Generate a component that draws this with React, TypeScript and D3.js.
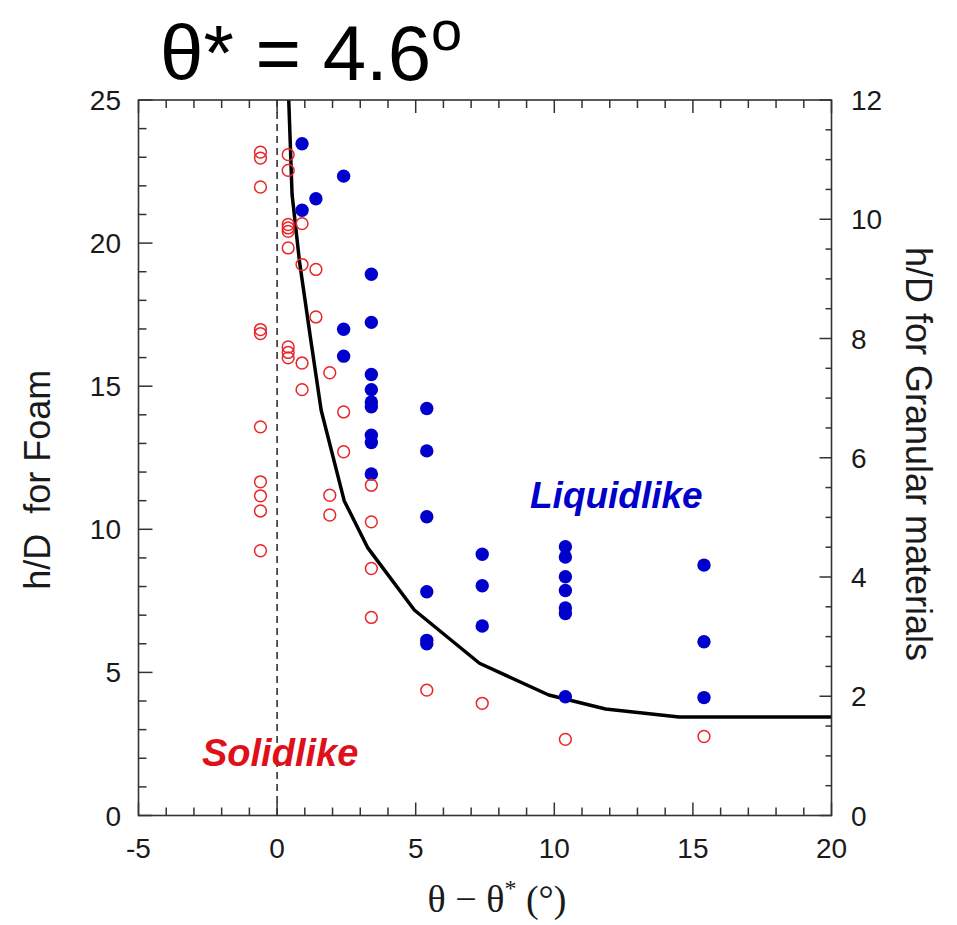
import React from "react";
import * as d3 from "d3";

// ---- data ----
const solidTheta = [
  -0.6, -0.6, -0.6, -0.6, -0.6, -0.6, -0.6, -0.6, -0.6, -0.6,
  0.4, 0.4, 0.4, 0.4, 0.4, 0.4, 0.4, 0.4, 0.4,
  0.9, 0.9, 0.9, 0.9,
  1.4, 1.4,
  1.9, 1.9, 1.9,
  2.4, 2.4,
  3.4, 3.4, 3.4, 3.4,
  5.4, 7.4, 10.4, 15.4,
];
const solidH = [
  23.18, 22.97, 21.96, 16.98, 16.84, 13.58, 11.66, 11.17, 10.64, 9.25,
  23.09, 22.54, 20.65, 20.53, 20.41, 19.83, 16.37, 16.18, 15.99,
  20.68, 19.25, 15.81, 14.88,
  19.08, 17.42,
  15.47, 11.19, 10.5,
  14.1, 12.71,
  11.54, 10.26, 8.63, 6.92,
  4.38, 3.92, 2.66, 2.76,
];

const liquidTheta = [
  0.9, 0.9,
  1.4,
  2.4, 2.4, 2.4,
  3.4, 3.4, 3.4, 3.4, 3.4, 3.4, 3.4, 3.4, 3.4,
  5.4, 5.4, 5.4, 5.4, 5.4, 5.4,
  7.4, 7.4, 7.4,
  10.4, 10.4, 10.4, 10.4, 10.4, 10.4, 10.4,
  15.4, 15.4, 15.4,
];
const liquidH = [
  23.47, 21.15,
  21.55,
  22.34, 16.99, 16.05,
  18.91, 17.23, 15.41, 14.88, 14.45, 14.28, 13.29, 13.03, 11.93,
  14.22, 12.74, 10.44, 7.82, 6.12, 6.0,
  9.13, 8.03, 6.62,
  9.39, 9.03, 8.34, 7.86, 7.25, 7.06, 4.15,
  8.75, 6.07, 4.12,
];

const boundaryTheta = [0.42, 0.54, 0.81, 1.19, 1.59, 2.42, 3.26, 4.95, 7.3, 9.8, 11.85, 14.5, 20];
const boundaryH = [25.0, 21.7, 19.34, 16.78, 14.16, 11.0, 9.37, 7.18, 5.32, 4.21, 3.72, 3.44, 3.44];

const xTicks = [-5, 0, 5, 10, 15, 20];
const yLeftTicks = [0, 5, 10, 15, 20, 25];
const yRightTicks = [0, 2, 4, 6, 8, 10, 12];

// ---- layout ----
const W = 957;
const H = 925;
const L = 138.5, R = 831.5, T = 100, B = 815.5;

const AXIS = "#333";
const TICKTXT = "#1a1a1a";
const BLUE = "#0000cc";
const RED = "#e8262a";

export default function App() {
  const x = d3.scaleLinear().domain([-5, 20]).range([L, R]);
  const yL = d3.scaleLinear().domain([0, 25]).range([B, T]);
  const yR = d3.scaleLinear().domain([0, 12]).range([B, T]);

  const line = d3
    .line<number>()
    .x((_, i) => x(boundaryTheta[i]))
    .y((_, i) => yL(boundaryH[i]));

  const xMinor = d3.range(-5, 20.001, 1);
  const yMinor = d3.range(0, 25.001, 1);
  const rMinor = d3.range(0, 12.001, 0.5);

  const tickLines: React.ReactElement[] = [];
  xMinor.forEach((v, i) => {
    const major = Math.abs(v % 5) < 1e-9;
    const len = major ? 13 : 8;
    tickLines.push(<line key={"bx" + i} x1={x(v)} x2={x(v)} y1={B} y2={B - len} />);
    tickLines.push(<line key={"tx" + i} x1={x(v)} x2={x(v)} y1={T} y2={T + len} />);
  });
  yMinor.forEach((v, i) => {
    const major = Math.abs(v % 5) < 1e-9;
    const len = major ? 14 : 8;
    tickLines.push(<line key={"ly" + i} x1={L} x2={L + len} y1={yL(v)} y2={yL(v)} />);
  });
  rMinor.forEach((v, i) => {
    const major = Math.abs(v % 2) < 1e-9;
    const len = major ? 12 : 6;
    tickLines.push(<line key={"ry" + i} x1={R} x2={R - len} y1={yR(v)} y2={yR(v)} />);
  });

  return (
    <svg
      width={W}
      height={H}
      style={{ position: "absolute", left: 0, top: 0, background: "#fff" }}
      fontFamily="'Liberation Sans', Arial, sans-serif"
    >
      <defs>
        <clipPath id="plotclip">
          <rect x={L} y={T} width={R - L} height={B - T} />
        </clipPath>
      </defs>

      {/* title */}
      <text x={160} y={80} fontSize={78} fill="#000">
        θ* = 4.6
        <tspan fontSize={56} dy={-30}>o</tspan>
      </text>

      {/* dashed zero line */}
      <line
        x1={x(0)}
        x2={x(0)}
        y1={T}
        y2={B}
        stroke="#222"
        strokeWidth={1.5}
        strokeDasharray="7,5"
      />

      {/* boundary curve */}
      <path
        d={line(boundaryTheta) || ""}
        fill="none"
        stroke="#000"
        strokeWidth={3.5}
        strokeLinejoin="round"
        clipPath="url(#plotclip)"
      />

      {/* liquidlike points */}
      {liquidTheta.map((t, i) => (
        <circle key={"b" + i} cx={x(t)} cy={yL(liquidH[i])} r={6.7} fill={BLUE} />
      ))}

      {/* solidlike points */}
      {solidTheta.map((t, i) => (
        <circle
          key={"r" + i}
          cx={x(t)}
          cy={yL(solidH[i])}
          r={5.9}
          fill="none"
          stroke={RED}
          strokeWidth={1.5}
        />
      ))}

      {/* frame */}
      <rect x={L} y={T} width={R - L} height={B - T} fill="none" stroke={AXIS} strokeWidth={1.6} />
      <g stroke={AXIS} strokeWidth={1.5}>{tickLines}</g>

      {/* tick labels */}
      <g fontSize={28} fill={TICKTXT}>
        {xTicks.map((v) => (
          <text key={"xl" + v} x={x(v)} y={858} textAnchor="middle">
            {String(v)}
          </text>
        ))}
        {yLeftTicks.map((v) => (
          <text key={"yl" + v} x={121} y={yL(v)} dy="0.36em" textAnchor="end">
            {String(v)}
          </text>
        ))}
        {yRightTicks.map((v) => (
          <text key={"yr" + v} x={851} y={yR(v)} dy="0.36em" textAnchor="start">
            {String(v)}
          </text>
        ))}
      </g>

      {/* axis titles */}
      <text
        transform={`translate(50,${(T + B) / 2 + 22}) rotate(-90)`}
        textAnchor="middle"
        fontSize={36}
        fill={TICKTXT}
        style={{ whiteSpace: "pre" }}
      >
        {"h/D  for Foam"}
      </text>
      <text
        transform={`translate(906,${454}) rotate(90)`}
        textAnchor="middle"
        fontSize={36}
        fill={TICKTXT}
      >
        h/D for Granular materials
      </text>
      <text
        x={497}
        y={912}
        textAnchor="middle"
        fontSize={38}
        fill={TICKTXT}
        fontFamily="'Liberation Serif', 'Times New Roman', serif"
      >
        θ − θ
        <tspan fontSize={24} dy={-16}>*</tspan>
        <tspan dy={16}> (°)</tspan>
      </text>

      {/* region labels */}
      <text x={530} y={508} fontSize={37} fontWeight="bold" fontStyle="italic" fill={BLUE}>
        Liquidlike
      </text>
      <text x={202} y={766} fontSize={38} fontWeight="bold" fontStyle="italic" fill="#e0101a">
        Solidlike
      </text>
    </svg>
  );
}
